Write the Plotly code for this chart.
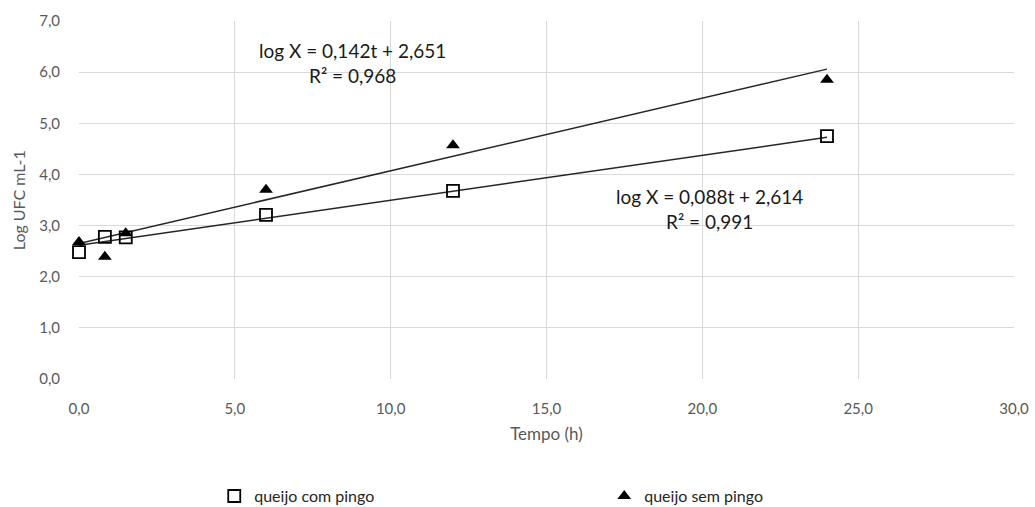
import numpy as np
import plotly.graph_objects as go

# Data
tempo = [0.0, 0.83, 1.5, 6.0, 12.0, 24.0]
com_pingo = [2.48, 2.78, 2.77, 3.21, 3.68, 4.75]
sem_pingo = [2.68, 2.39, 2.85, 3.70, 4.57, 5.85]

# Trendline coefficients (as shown)
slope_com, inter_com = 0.088, 2.614
slope_sem, inter_sem = 0.142, 2.651
eq_com = "log X = 0,088t + 2,614<br>R² = 0,991"
eq_sem = "log X = 0,142t + 2,651<br>R² = 0,968"

x_ticks = [0, 5, 10, 15, 20, 25, 30]
y_ticks = [0, 1, 2, 3, 4, 5, 6, 7]

FONT = "Lato"
GREY = "#595959"
t_line = np.array([0.0, 24.0])

fig = go.Figure()
fig.add_trace(go.Scatter(x=t_line, y=inter_sem + slope_sem * t_line, mode="lines",
                         line=dict(color="#262626", width=1.5), showlegend=False, hoverinfo="skip"))
fig.add_trace(go.Scatter(x=t_line, y=inter_com + slope_com * t_line, mode="lines",
                         line=dict(color="#262626", width=1.5), showlegend=False, hoverinfo="skip"))
fig.add_trace(go.Scatter(x=tempo, y=com_pingo, mode="markers", name="queijo com pingo",
                         marker=dict(symbol="square-open", size=12, color="black", line=dict(width=1.8)),
                         cliponaxis=False))
fig.add_trace(go.Scatter(x=tempo, y=sem_pingo, mode="markers", name="queijo sem pingo",
                         marker=dict(symbol="triangle-up", size=12, color="black"),
                         cliponaxis=False))

fig.add_annotation(x=8.76, y=6.18, text=eq_sem, showarrow=False, align="center",
                   font=dict(family=FONT, size=19, color="#1a1a1a"))
fig.add_annotation(x=20.24, y=3.33, text=eq_com, showarrow=False, align="center",
                   font=dict(family=FONT, size=19, color="#1a1a1a"))
# y-axis title
fig.add_annotation(xref="paper", yref="paper", x=-0.065, y=0.5, xanchor="center", yanchor="middle",
                   text="Log UFC mL-1", textangle=-90, showarrow=False,
                   font=dict(family=FONT, size=16, color=GREY))

fig.update_layout(
    width=1035, height=507,
    margin=dict(l=79, r=21, t=21, b=128, autoexpand=False),
    paper_bgcolor="white", plot_bgcolor="white",
    separators=",.",
    font=dict(family=FONT, size=15, color=GREY),
    xaxis=dict(range=[0, 30], tickvals=x_ticks, tickformat=".1f", showgrid=True,
               gridcolor="#d9d9d9", gridwidth=1.2, zeroline=False, showline=False,
               title=dict(text="Tempo (h)", font=dict(size=17, color=GREY), standoff=12),
               ticks="outside", ticklen=16, tickcolor="rgba(0,0,0,0)",
               tickfont=dict(size=15, color=GREY)),
    yaxis=dict(range=[0, 7], tickvals=y_ticks, tickformat=".1f", showgrid=True,
               gridcolor="#d9d9d9", gridwidth=1.2, zeroline=False, showline=False,
               ticks="outside", ticklen=15, tickcolor="rgba(0,0,0,0)",
               tickfont=dict(size=15, color=GREY)),
    legend=dict(orientation="h", xref="container", yref="container",
                x=0.207, y=0.055, xanchor="left", yanchor="top",
                entrywidth=345, entrywidthmode="pixels",
                font=dict(family=FONT, size=16, color="#262626"),
                itemwidth=30, tracegroupgap=0),
)

fig.write_html("out.html", config={"displayModeBar": False},
               post_script="document.body.style.margin='0';document.body.style.overflow='hidden';")
